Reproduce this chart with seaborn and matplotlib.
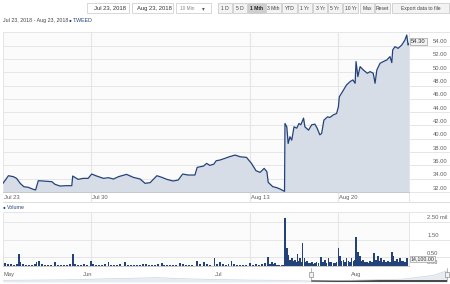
import numpy as np
import pandas as pd
import matplotlib
matplotlib.use("Agg")
import matplotlib.pyplot as plt
import matplotlib.dates as mdates
from matplotlib.patches import Rectangle
from matplotlib.transforms import ScaledTranslation, blended_transform_factory
import seaborn as sns

# ---------------- data ----------------
n_bars = 897                                   # 10-min bars, Jul 23 -> Aug 23 (trading time)
day_labels = ["Jul 23", "Jul 30", "Aug 13", "Aug 20"]
day_start_bar = [0, 195, 546, 741]

price_bar = [0, 12, 23, 30, 38, 46, 56, 67, 72, 78,
             89, 108, 115, 126, 141, 152, 154, 166, 177, 188,
             196, 207, 222, 233, 244, 255, 273, 288, 303, 314,
             325, 340, 351, 362, 376, 387, 397, 409, 424, 429,
             443, 450, 457, 466, 471, 479, 490, 500, 513, 524,
             538, 549, 559, 568, 577, 583, 586, 596, 605, 612,
             619, 622, 623, 627, 630, 634, 638, 643, 649, 654,
             658, 664, 667, 675, 682, 689, 694, 700, 704, 709,
             717, 722, 730, 737, 741, 743, 752, 759, 767, 773,
             778, 780, 784, 789, 796, 805, 811, 818, 822, 826,
             833, 840, 848, 855, 859, 861, 866, 873, 881, 888,
             892, 895, 897]
price = [33.3, 34.45, 34.3, 34.05, 33.3, 32.8, 32.7, 32.4, 32.3, 33.7,
         33.65, 33.55, 33.15, 32.9, 32.95, 32.95, 34.4, 33.9, 34.05, 34.05,
         34.7, 34.4, 34.05, 34.15, 33.95, 34.3, 34.65, 34.2, 33.95, 33.3,
         33.4, 34.45, 34.2, 33.9, 33.65, 33.8, 34.7, 34.55, 34.55, 35.7,
         35.9, 36.3, 36.0, 36.2, 36.7, 36.8, 37.05, 37.3, 37.55, 37.3,
         37.2, 36.3, 35.2, 34.95, 35.55, 35.05, 33.45, 32.8, 32.65, 32.45,
         32.2, 32.1, 42.3, 41.8, 39.3, 40.3, 39.8, 41.8, 41.6, 42.3,
         42.1, 43.1, 41.8, 41.3, 42.1, 42.2, 41.6, 40.6, 40.8, 42.8,
         43.3, 43.2, 43.6, 43.8, 44.8, 46.3, 47.3, 48.1, 48.6, 48.85,
         48.35, 51.6, 49.35, 50.85, 50.35, 49.85, 50.1, 49.85, 48.35, 50.35,
         51.35, 51.6, 51.85, 52.35, 51.45, 53.35, 53.85, 53.6, 54.1, 54.85,
         55.6, 54.1, 54.3]

vol_bar = [0, 4, 11, 18, 24, 31, 36, 39, 44, 51,
           57, 64, 71, 74, 80, 86, 93, 99, 106, 115,
           122, 128, 135, 141, 148, 154, 159, 166, 172, 179,
           186, 194, 199, 205, 212, 219, 225, 233, 239, 245,
           252, 259, 270, 276, 283, 289, 296, 303, 310, 316,
           323, 329, 336, 342, 351, 356, 362, 369, 376, 382,
           391, 398, 404, 411, 418, 428, 435, 444, 451, 457,
           467, 473, 479, 486, 493, 498, 505, 510, 517, 524,
           530, 537, 546, 552, 559, 566, 572, 579, 585, 590,
           594, 598, 601, 605, 610, 616, 620, 623, 627, 630,
           634, 638, 642, 645, 648, 651, 654, 656, 660, 662,
           666, 668, 671, 675, 678, 682, 686, 689, 693, 697,
           703, 707, 711, 715, 719, 722, 726, 730, 734, 737,
           741, 745, 748, 752, 756, 759, 763, 767, 770, 774,
           778, 780, 784, 787, 789, 792, 796, 800, 804, 808,
           811, 815, 820, 824, 828, 832, 835, 838, 842, 846,
           851, 855, 859, 862, 866, 870, 874, 877, 880, 884,
           888, 892, 896]
vol_mil = [0.73, 0.2, 0.12, 0.15, 0.1, 0.12, 0.67, 0.26, 0.12, 0.08,
           0.1, 0.07, 0.12, 0.26, 0.3, 0.12, 0.1, 0.08, 0.1, 0.22,
           0.1, 0.08, 0.1, 0.08, 0.12, 0.69, 0.12, 0.1, 0.08, 0.12,
           0.1, 0.31, 0.15, 0.1, 0.08, 0.1, 0.12, 0.22, 0.1, 0.08,
           0.1, 0.12, 0.26, 0.1, 0.08, 0.1, 0.08, 0.1, 0.15, 0.12,
           0.08, 0.1, 0.08, 0.12, 0.2, 0.1, 0.08, 0.1, 0.08, 0.1,
           0.17, 0.12, 0.08, 0.1, 0.08, 0.3, 0.15, 0.22, 0.12, 0.1,
           0.45, 0.15, 0.22, 0.12, 0.1, 0.15, 0.3, 0.12, 0.1, 0.08,
           0.1, 0.08, 0.17, 0.1, 0.12, 0.1, 0.15, 0.18, 0.54, 0.15,
           0.22, 0.12, 0.17, 0.1, 0.08, 0.1, 0.08, 2.73, 1.01, 0.63,
           0.35, 0.45, 0.3, 0.37, 0.25, 0.67, 0.3, 0.45, 0.25, 1.29,
           0.45, 0.25, 0.3, 0.18, 0.2, 0.22, 0.15, 0.2, 0.26, 0.2,
           0.5, 0.25, 0.37, 0.2, 0.45, 0.22, 0.26, 0.18, 0.2, 0.25,
           1.01, 0.56, 0.3, 0.37, 0.25, 0.45, 0.3, 0.25, 0.45, 0.3,
           0.35, 1.63, 0.82, 0.4, 0.56, 0.3, 0.37, 0.25, 0.26, 0.2,
           0.3, 0.22, 0.73, 0.35, 0.56, 0.3, 0.45, 0.25, 0.37, 0.22,
           0.3, 0.25, 0.82, 0.56, 0.3, 0.41, 0.25, 0.45, 0.3, 0.3,
           0.25, 0.48, 0.0141]

price_ticks = [32, 34, 36, 38, 40, 42, 44, 46, 48, 50, 52, 54]
vol_ticks = [0.0, 0.5, 1.5, 2.5]
vol_tick_labels = ["0.00", "0.50", "1.50", "2.50 mil"]

nav_dates = ["2018-05-14", "2018-05-21", "2018-05-28", "2018-06-04", "2018-06-11",
             "2018-06-18", "2018-06-25", "2018-07-02", "2018-07-09", "2018-07-16",
             "2018-07-23", "2018-07-30", "2018-08-06", "2018-08-13", "2018-08-20",
             "2018-08-23"]
nav_close = [34.5, 35.0, 35.5, 37.0, 38.5, 40.0, 37.5, 36.0, 35.0, 34.5,
             33.0, 34.0, 35.5, 37.0, 45.0, 54.3]
nav_month_labels = ["May", "Jun", "Jul", "Aug"]
nav_month_pos = ["2018-05-14", "2018-06-01", "2018-07-01", "2018-08-01"]
sel_start, sel_end = "2018-07-23", "2018-08-23"

range_buttons = ["1 D", "5 D", "1 Mth", "3 Mth", "YTD", "1 Yr", "3 Yr", "5 Yr",
                 "10 Yr", "Max", "Reset", "Export data to file"]
selected_button = "1 Mth"
symbol = "T.WEED"

# ---------------- style ----------------
sns.set_style("white")
plt.rcParams["font.family"] = ["Liberation Sans", "DejaVu Sans"]
NAVY = "#23427a"
FILL = "#d6dde7"
GRID = "#e6e6e6"
TXT = "#606060"
FS = 4.2

W, H = 450, 284
fig = plt.figure(figsize=(W / 100, H / 100), dpi=100)
fig.patch.set_facecolor("white")


def px_axes(x0, y0, x1, y1):
    return fig.add_axes([x0 / W, 1 - y1 / H, (x1 - x0) / W, (y1 - y0) / H])


def offset(dx_px, dy_px):
    return ScaledTranslation(dx_px / 100, dy_px / 100, fig.dpi_scale_trans)


# ---------------- overlay (toolbar, captions) ----------------
ov = px_axes(0, 0, W, H)
ov.set_xlim(0, W)
ov.set_ylim(H, 0)
ov.axis("off")
ov.patch.set_alpha(0)


def box(x0, x1, fc, ec="#c9c9c9", y0=3, y1=13):
    ov.add_patch(Rectangle((x0, y0), x1 - x0, y1 - y0, fc=fc, ec=ec, lw=0.5))


box(87, 129, "white")
ov.text(94, 8.2, "Jul 23, 2018", fontsize=FS, color="#333", va="center")
box(132, 173, "white")
ov.text(137, 8.2, "Aug 23, 2018", fontsize=FS, color="#333", va="center")
box(176, 211, "white")
ov.text(180, 8.2, "10 Min", fontsize=3.4, color="#888", va="center")
ov.text(202, 8.4, "\u25be", fontsize=4, color="#555", va="center")

btn_edges = [(218, 232), (233, 247), (248, 265), (266, 281), (282, 297), (298, 312),
             (313, 327), (328, 342), (343, 358), (360, 374), (375, 390), (392, 449)]
for lab, (x0, x1) in zip(range_buttons, btn_edges):
    sel = lab == selected_button
    box(x0, x1, "#cfcfcf" if sel else "#f3f3f3", ec="#c4c4c4")
    ov.text((x0 + x1) / 2, 8.2, lab, fontsize=3.6, color="#222" if sel else "#444",
            ha="center", va="center", fontweight="bold" if sel else "normal")

ov.text(3, 20.5, "Jul 23, 2018 - Aug 23, 2018", fontsize=3.8, color="#444", va="center")
ov.text(68.5, 20.7, "\u25cf", fontsize=3.4, color=NAVY, va="center")
ov.text(72.5, 20.5, symbol, fontsize=3.8, color=NAVY, va="center")
ov.text(2.5, 207.3, "\u25cf", fontsize=3.4, color=NAVY, va="center")
ov.text(6.5, 207.3, "Volume", fontsize=3.8, color=NAVY, va="center")
ov.plot([3, 450], [202, 202], color="#d8d8d8", lw=0.6)

# ---------------- price chart ----------------
ax = px_axes(3, 31.7, 409, 192)
ax.set_facecolor("#fbfbfb")
ax.set_xlim(0, n_bars)
ax.set_ylim(32, 56.1)
ext = (450 - 3) / 406
for v in price_ticks:
    ax.axhline(v, xmin=0, xmax=ext, color=GRID, lw=0.7, zorder=0, clip_on=False)
ax.axhline(56.1, xmin=0, xmax=ext, color=GRID, lw=0.7, zorder=0, clip_on=False)
for b in day_start_bar[1:]:
    ax.axvline(b, ymin=-(202 - 192) / 160.3, ymax=1, color=GRID, lw=0.8, zorder=0, clip_on=False)
ax.axvline(n_bars, ymin=-(202 - 192) / 160.3, ymax=1, color=GRID, lw=0.8, zorder=0, clip_on=False)

ax.fill_between(price_bar, price, 32, color=FILL, lw=0, zorder=1)
sns.lineplot(x=price_bar, y=price, ax=ax, color=NAVY, lw=0.9, zorder=3)

ax.set_xticks(day_start_bar)
ax.set_xticklabels(day_labels)
ax.set_yticks(price_ticks)
ax.set_yticklabels([f"{v:.2f}" for v in price_ticks])
ax.yaxis.tick_right()
ax.tick_params(axis="y", length=0, pad=17.3, labelsize=FS, labelcolor=TXT)
ax.tick_params(axis="x", length=0, pad=2.2, labelsize=FS, labelcolor=TXT)
for lab in ax.get_yticklabels():
    lab.set_va("bottom")
    lab.set_transform(lab.get_transform() + offset(0, 1.5))
for lab in ax.get_xticklabels():
    lab.set_ha("left")
    lab.set_transform(lab.get_transform() + offset(1, 0))
ax.set_xlabel("")
ax.set_ylabel("")
for s in ["top", "left", "right"]:
    ax.spines[s].set_color(GRID)
    ax.spines[s].set_linewidth(0.7)
ax.spines["bottom"].set_color("#c8c8c8")
ax.spines["bottom"].set_linewidth(0.7)

ax.annotate(f"{price[-1]:.2f}", xy=(price_bar[-1], price[-1]), xytext=(1.5, 1.6),
            textcoords="offset points", fontsize=FS, color="#333", va="center", ha="left",
            bbox=dict(boxstyle="square,pad=0.15", fc="#f2f2f2", ec="#8c8c8c", lw=0.4),
            annotation_clip=False, zorder=5)

# ---------------- volume chart ----------------
av = px_axes(3, 211.7, 409, 266.3)
av.set_facecolor("#fbfbfb")
av.set_xlim(0, n_bars)
av.set_ylim(0, 3.06)
for v in vol_ticks[1:]:
    av.axhline(v, xmin=0, xmax=ext, color=GRID, lw=0.7, zorder=0, clip_on=False)
av.axhline(3.06, xmin=0, xmax=ext, color=GRID, lw=0.7, zorder=0, clip_on=False)
for b in day_start_bar[1:]:
    av.axvline(b, color=GRID, lw=0.8, zorder=0)
av.bar(vol_bar, vol_mil, width=3.6, color=NAVY, lw=0, zorder=2)
av.set_xticks([])
av.set_yticks(vol_ticks)
av.set_yticklabels(vol_tick_labels)
av.yaxis.tick_right()
av.tick_params(axis="y", length=0, pad=13, labelsize=FS, labelcolor=TXT)
for lab in av.get_yticklabels():
    lab.set_va("bottom")
    lab.set_transform(lab.get_transform() + offset(0, 1.5))
for s in ["top", "left", "right"]:
    av.spines[s].set_color(GRID)
    av.spines[s].set_linewidth(0.7)
av.spines["bottom"].set_color("#c8c8c8")
av.spines["bottom"].set_linewidth(0.7)
vol_txt = f"{vol_mil[-1] * 1e6:,.2f}"
av.annotate(vol_txt, xy=(vol_bar[-1], vol_mil[-1]), xytext=(1.5, 5.0),
            textcoords="offset points", fontsize=3.8, color="#333", va="center", ha="left",
            bbox=dict(boxstyle="square,pad=0.15", fc="#f2f2f2", ec="#8c8c8c", lw=0.4),
            annotation_clip=False, zorder=5)

# ---------------- navigator ----------------
an = px_axes(3, 268, 447, 282)
nd = pd.to_datetime(nav_dates)
an.fill_between(nd, nav_close, 31, color="#e7ecf3", lw=0)
sns.lineplot(x=nd, y=nav_close, ax=an, color="#c9d3e1", lw=0.5)
an.set_xlim(pd.Timestamp(nav_dates[0]), pd.Timestamp(sel_end))
an.set_ylim(31, 60)
an.set_xticks(pd.to_datetime(nav_month_pos))
an.set_xticklabels(nav_month_labels)
an.set_yticks([])
an.set_xlabel("")
an.set_ylabel("")
an.tick_params(axis="x", length=0, pad=-7, labelsize=FS, labelcolor=TXT)
for lab in an.get_xticklabels():
    lab.set_ha("left")
    lab.set_transform(lab.get_transform() + offset(1, 0))
for s in an.spines.values():
    s.set_visible(False)
tr = blended_transform_factory(an.transData, an.transAxes)
x0n, x1n = mdates.date2num(pd.Timestamp(sel_start)), mdates.date2num(pd.Timestamp(sel_end))
an.add_patch(Rectangle((x0n, 0.0), x1n - x0n, 0.16, transform=tr, fc="#4a4a4a", lw=0, clip_on=False))
an.plot([x0n, x0n], [0.1, 1.0], transform=tr, color="#9a9a9a", lw=0.5, clip_on=False)
an.plot([x1n, x1n], [0.1, 1.0], transform=tr, color="#9a9a9a", lw=0.5, clip_on=False)
hw = 0.45
for xc in (x0n, x1n):
    an.add_patch(Rectangle((xc - hw, 0.35), 2 * hw, 0.35, transform=tr, fc="#f2f2f2",
                           ec="#777", lw=0.4, clip_on=False, zorder=5))

fig.savefig("out.png", dpi=100, facecolor="white")
